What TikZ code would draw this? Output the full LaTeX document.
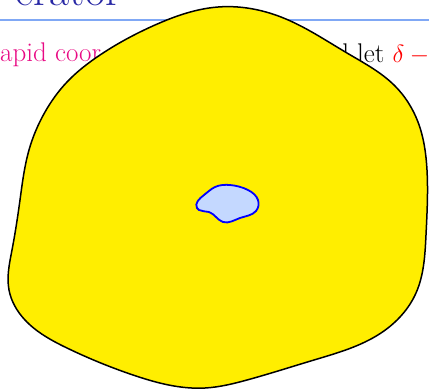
\documentclass[tikz,border=0pt]{standalone}
\usetikzlibrary{hobby}
\definecolor{titleblue}{RGB}{40,40,165}
\definecolor{rulebl}{RGB}{128,168,245}
\definecolor{mag}{RGB}{232,10,132}
\definecolor{blobyellow}{RGB}{255,238,0}
\definecolor{innerfill}{RGB}{196,216,255}
\tikzset{
  bodytext/.style={inner sep=0pt, font=\fontsize{27}{32}\selectfont},
  titletext/.style={inner sep=0pt, text=titleblue, font=\fontsize{44}{50}\selectfont},
  outerblob/.style={draw=black, line width=1.5pt, fill=blobyellow},
  innerblob/.style={draw=blue, line width=1.8pt, fill=innerfill},
}
\begin{document}
\begin{tikzpicture}[x=1pt,y=-1pt]
\useasboundingbox (0,0) rectangle (429,389);
\node[titletext, anchor=base east] (title) at (121,5) {erator};
\coordinate (ruleL) at (0,20);
\coordinate (ruleR) at (429,20);
\draw[rulebl, line width=1.2pt] (ruleL) -- (ruleR);
\node[bodytext, text=mag, anchor=base west] (t1) at (0,61) {apid coor};
\node[bodytext, anchor=base west] (t2) at (357,62) {\llap{d }let \textcolor{red}{$\delta -{}$}};
\draw[outerblob] (218,7) to[closed, curve through={
 (281,17) .. (347,53) .. (395,86) .. (418,122) .. (427,170)
 .. (426,235) .. (416,293) .. (381,333) .. (314,360) .. (247,380)
 .. (205,388) .. (133,375) .. (67,348) .. (25,320) .. (9,290)
 .. (12,250) .. (20,200) .. (29,150) .. (45,112) .. (67,82) .. (100,55)}] (155,25);
\draw[innerblob] (197,208) to[closed, curve through={
 (204,195) .. (215,187) .. (230,185) .. (248,190) .. (258,200) .. (256,211)
 .. (240,218) .. (223,222) .. (216,217) .. (209,212)}] (199,210);
\end{tikzpicture}
\end{document}
